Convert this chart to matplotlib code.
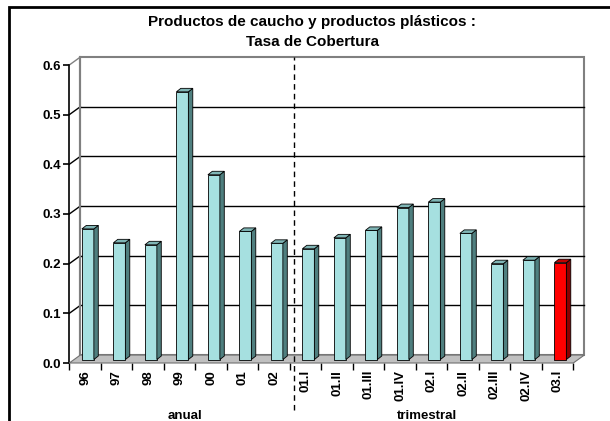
import numpy as np
import matplotlib.pyplot as plt
from matplotlib.patches import Polygon, Rectangle

plt.rcParams['font.family'] = ['Liberation Sans', 'DejaVu Sans']
plt.rcParams['font.weight'] = 'bold'

labels = ['96', '97', '98', '99', '00', '01', '02',
          '01.I', '01.II', '01.III', '01.IV', '02.I', '02.II', '02.III', '02.IV', '03.I']
values = [0.263, 0.235, 0.231, 0.539, 0.372, 0.258, 0.234,
          0.223, 0.245, 0.260, 0.306, 0.317, 0.254, 0.193, 0.200, 0.195]
n_anual = 7
highlight = '03.I'
yticks = [0.0, 0.1, 0.2, 0.3, 0.4, 0.5, 0.6]
ytick_labels = ['0.0', '0.1', '0.2', '0.3', '0.4', '0.5', '0.6']
title1 = 'Productos de caucho y productos plásticos :'
title2 = 'Tasa de Cobertura'

W, H = 610, 421
fig = plt.figure(figsize=(W / 100, H / 100), dpi=100)
# front plane of the 3d box: x 69..573 px, y 363..65 px
ax = fig.add_axes([69.3 / W, (H - 363) / H, 504 / W, 298 / H])
n = len(labels)
ax.set_xlim(0, n)
ax.set_ylim(0, 0.6)
for s in ['top', 'right', 'bottom']:
    ax.spines[s].set_visible(False)
ax.spines['left'].set_linewidth(1.2)

# depth of the box
dx, dy = 0.35, 0.016

# back wall + gridlines
ax.add_patch(Rectangle((dx, dy), n, 0.6, facecolor='white', edgecolor='#808080',
                       lw=1.5, zorder=1, clip_on=False))
for v in yticks[1:-1]:
    ax.plot([dx, n + dx], [v + dy, v + dy], color='black', lw=1, zorder=2, clip_on=False)
    ax.plot([0, dx], [v, v + dy], color='black', lw=1, zorder=2, clip_on=False)
ax.plot([0, dx], [0.6, 0.6 + dy], color='#808080', lw=1, zorder=2, clip_on=False)
ax.plot([dx, dx], [dy, 0.6 + dy], color='#808080', lw=1.5, zorder=2, clip_on=False)

# floor
ax.add_patch(Polygon([(0, 0), (n, 0), (n + dx, dy), (dx, dy)], closed=True,
                     facecolor='#C0C0C0', edgecolor='#707070', lw=0.8, zorder=3,
                     clip_on=False))

# bars
x0, bw = 0.40, 0.38
bdx, bdy = 0.14, 0.007
base = 0.007
for i, (lab, v) in enumerate(zip(labels, values)):
    if lab == highlight:
        cf, cs, ct = '#FF0000', '#8B0000', '#C00000'
    else:
        cf, cs, ct = '#A6E0E0', '#4F7F7F', '#7FB5B5'
    l, r = i + x0, i + x0 + bw
    top = base + v
    ax.add_patch(Polygon([(l, base), (r, base), (r, top), (l, top)], closed=True,
                         facecolor=cf, edgecolor='black', lw=0.6, zorder=5))
    ax.add_patch(Polygon([(r, base), (r + bdx, base + bdy), (r + bdx, top + bdy), (r, top)],
                         closed=True, facecolor=cs, edgecolor='black', lw=0.6, zorder=5))
    ax.add_patch(Polygon([(l, top), (r, top), (r + bdx, top + bdy), (l + bdx, top + bdy)],
                         closed=True, facecolor=ct, edgecolor='black', lw=0.6, zorder=5))

# separator between annual and quarterly data
ax.plot([n_anual + 0.14, n_anual + 0.14], [-0.095, 0.6 + dy], color='black', lw=1,
        ls=(0, (4, 3)), zorder=6, clip_on=False)

# y axis
ax.set_yticks(yticks)
ax.set_yticklabels(ytick_labels, fontsize=9.5, fontweight='bold')
ax.tick_params(axis='y', direction='out', length=4, width=1.2, pad=2)

# x axis: ticks at category borders, labels at centres
ax.set_xticks(np.arange(n + 1))
ax.set_xticklabels([])
ax.set_xticks(np.arange(n) + 0.5, minor=True)
ax.set_xticklabels(labels, minor=True, rotation=90, fontsize=9.5, fontweight='bold',
                   va='top', ha='center')
ax.tick_params(axis='x', which='major', direction='out', length=5, width=1)
ax.tick_params(axis='x', which='minor', length=0, pad=5)

ax.text(3.67, -0.107, 'anual', ha='center', va='center', fontsize=9.5, fontweight='bold')
ax.text(11.34, -0.107, 'trimestral', ha='center', va='center', fontsize=9.5,
        fontweight='bold')

fig.text(312 / W, 1 - 22 / H, title1, ha='center', va='center', fontsize=11,
         fontweight='bold')
fig.text(312 / W, 1 - 42 / H, title2, ha='center', va='center', fontsize=11,
         fontweight='bold')

# chart border
fig.add_artist(Rectangle((9 / W, -0.1), 1.2, 1.1 - 7 / H, transform=fig.transFigure,
                         fill=False, edgecolor='black', lw=2))

fig.savefig('out.png', dpi=100)
